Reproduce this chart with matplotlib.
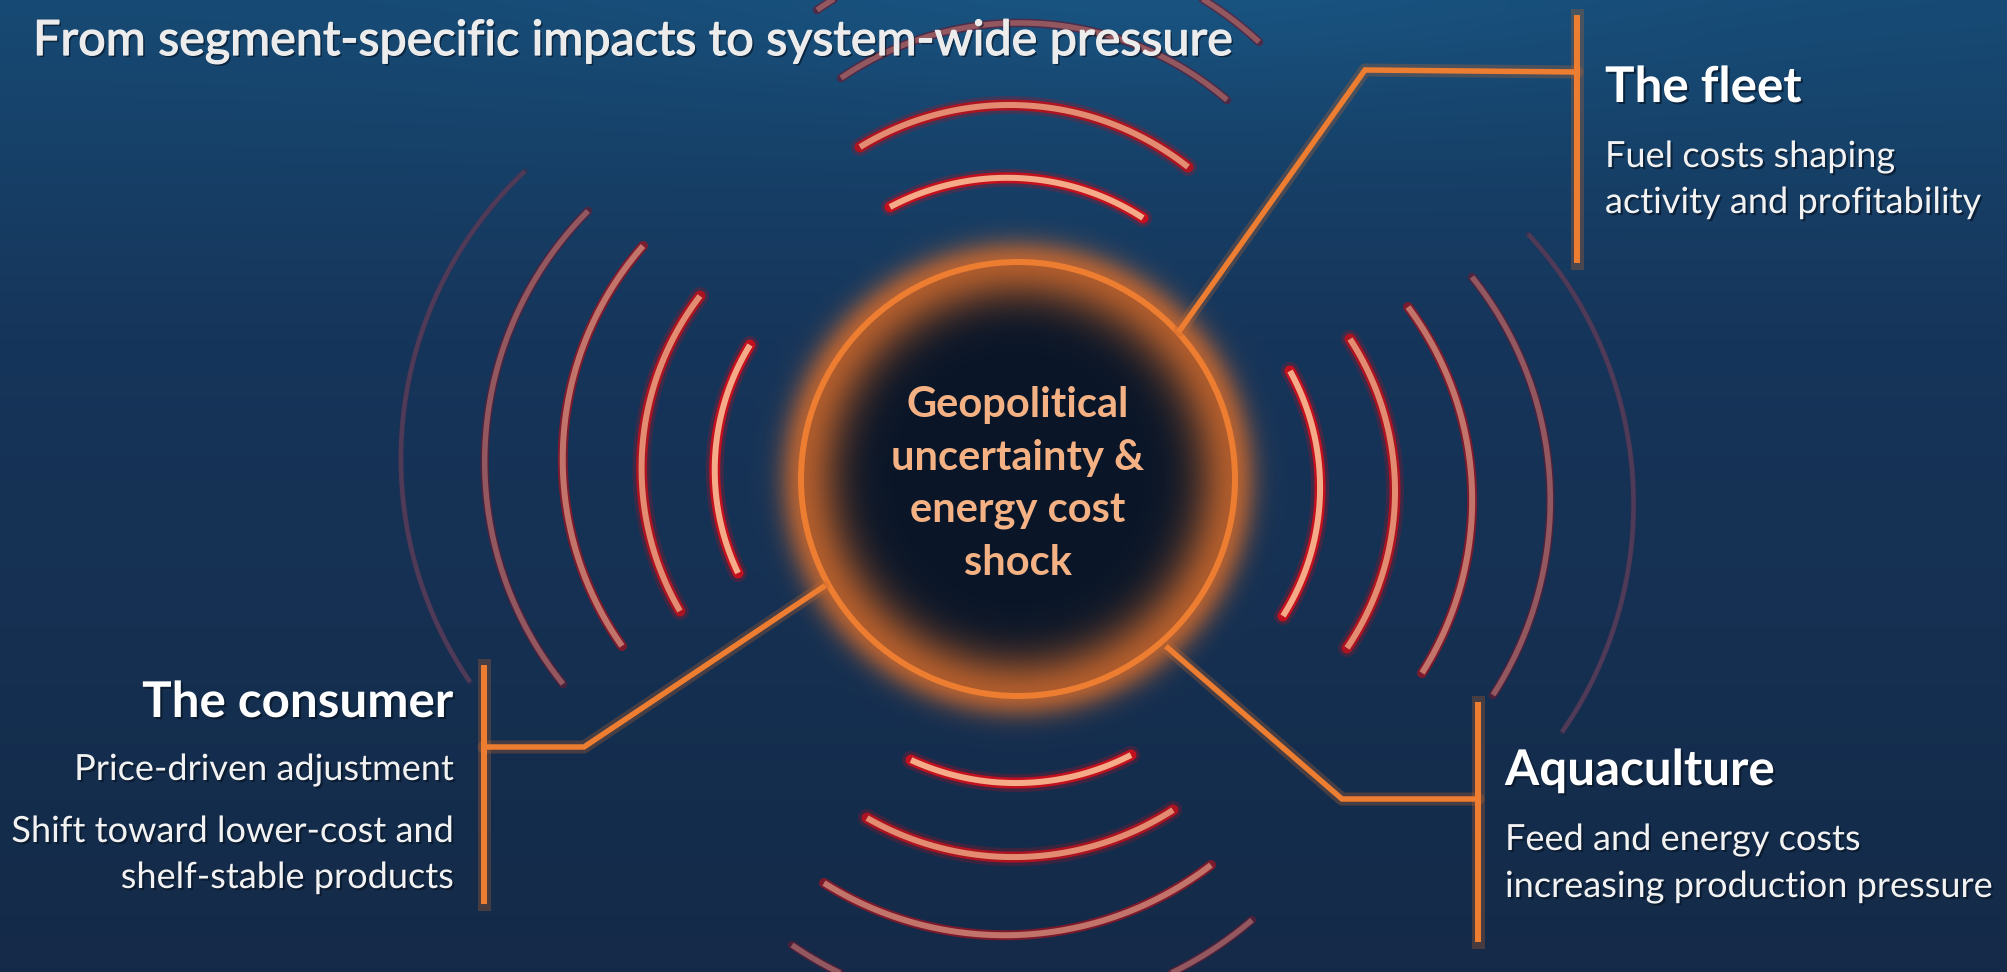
import numpy as np
import matplotlib.pyplot as plt
from matplotlib.patches import Circle
import matplotlib.patheffects as pe

plt.rcParams['font.family'] = ['Lato', 'DejaVu Sans']

# canvas size in pixels
W, H = 2007, 972

# hub circle
hub_x, hub_y, hub_r = 1018, 479, 217

title = 'From segment-specific impacts to system-wide pressure'
hub_lines = ['Geopolitical', 'uncertainty &', 'energy cost', 'shock']
hub_baselines = [417, 470, 522, 575]

# segment labels: heading, body lines
fleet_head = 'The fleet'
fleet_body = ['Fuel costs shaping', 'activity and profitability']
consumer_head = 'The consumer'
consumer_body = ['Price-driven adjustment', 'Shift toward lower-cost and', 'shelf-stable products']
aqua_head = 'Aquaculture'
aqua_body = ['Feed and energy costs', 'increasing production pressure']

# connector polylines (end on ring -> elbow -> bracket) and bracket bars
fleet_path = [(1180, 330), (1365, 70), (1577, 72)]
fleet_bar = (1577, 15, 263)
aqua_path = [(1168, 648), (1342, 799), (1478, 799)]
aqua_bar = (1478, 702, 942)
consumer_path = [(823, 587), (584, 747), (484, 747)]
consumer_bar = (484, 665, 904)

# wave arcs: three points (end, apex, end), plus a fade level
left_arcs = [
    [(750, 345), (715, 459), (738, 573)],
    [(700, 296), (642, 453), (680, 611)],
    [(643, 246), (563, 446), (622, 646)],
    [(588, 211), (485, 447), (563, 684)],
    [(525, 171), (402, 430), (470, 682)],
]
left_levels = [0, 1, 2, 3, 4]
right_arcs = [
    [(1290, 371), (1320, 493), (1283, 616)],
    [(1350, 339), (1395, 493), (1347, 648)],
    [(1408, 307), (1472, 490), (1422, 673)],
    [(1472, 277), (1550, 486), (1493, 695)],
    [(1528, 234), (1633, 483), (1562, 732)],
]
right_levels = [0, 1, 2, 3, 4]
top_arcs = [
    [(890, 207), (1017, 178), (1143, 218)],
    [(860, 147), (1010, 105), (1188, 167)],
    [(841, 78), (1013, 23), (1227, 100)],
    [(817, 10), (1022, -53), (1259, 42)],
]
top_levels = [0, 1, 3, 3]
bottom_arcs = [
    [(911, 760), (1020, 783), (1131, 755)],
    [(867, 818), (1020, 857), (1173, 810)],
    [(824, 883), (1017, 935), (1211, 865)],
    [(792, 945), (1020, 1011), (1252, 920)],
]
bottom_levels = [0, 1, 2, 3]

core_cols = ['#f5ab88', '#e38c72', '#c2746b', '#93585f', '#4f3b58']
edge_cols = ['#c3101e', '#b3121f', '#8e1727', '#621d35', '#3b2e50']
core_px = [6, 6, 6, 5.5, 4.5]
edge_px = [11, 11, 10, 8.5, 6]
edge_alpha = [1.0, 0.95, 0.85, 0.7, 0.45]

ORANGE = '#ED7D31'
PX = 0.72  # points per pixel at dpi 100


def arc_points(p1, p2, p3, n=120):
    (x1, y1), (x2, y2), (x3, y3) = p1, p2, p3
    a = np.array([[x2 - x1, y2 - y1], [x3 - x2, y3 - y2]], float) * 2
    b = np.array([x2**2 + y2**2 - x1**2 - y1**2, x3**2 + y3**2 - x2**2 - y2**2], float)
    cx, cy = np.linalg.solve(a, b)
    r = np.hypot(x1 - cx, y1 - cy)
    t1 = np.arctan2(y1 - cy, x1 - cx)
    t2 = np.arctan2(y2 - cy, x2 - cx)
    t3 = np.arctan2(y3 - cy, x3 - cx)
    d12 = (t2 - t1) % (2 * np.pi)
    d13 = (t3 - t1) % (2 * np.pi)
    if d12 < d13:
        t = np.linspace(t1, t1 + d13, n)
    else:
        t = np.linspace(t1, t1 - (2 * np.pi - d13), n)
    return cx + r * np.cos(t), cy + r * np.sin(t)


# background: navy gradient with dark hub and orange glow
yy, xx = np.mgrid[0:H, 0:W] + 0.5
stops = [0, 0.35, 1]
top_c = np.array([22, 74, 116]) / 255
mid_c = np.array([22, 53, 90]) / 255
bot_c = np.array([20, 42, 72]) / 255
img = np.zeros((H, W, 3))
for k in range(3):
    img[..., k] = np.interp(yy / H, stops, [top_c[k], mid_c[k], bot_c[k]])
haze = np.exp(-((xx - 1150) / 550) ** 2 - (yy / 110) ** 2) * 0.06
img += haze[..., None] * np.array([0.2, 0.6, 0.8])

d = np.hypot(xx - hub_x, yy - hub_y)
inside = d < hub_r
img[inside] = np.array([10, 22, 40]) / 255
glow = np.where(inside, 0.85 * np.exp(-((hub_r - d) / 40) ** 2),
                0.85 * np.exp(-((d - hub_r) / 22) ** 2))
glow_c = np.array([205, 105, 45]) / 255
img = img * (1 - glow[..., None]) + glow_c * glow[..., None]
img = np.clip(img, 0, 1)

fig = plt.figure(figsize=(W / 100, H / 100), dpi=100)
ax = fig.add_axes([0, 0, 1, 1])
ax.imshow(img, extent=(0, W, H, 0), interpolation='bilinear', zorder=0)
ax.set_xlim(0, W)
ax.set_ylim(H, 0)
ax.axis('off')

# wave arcs
for arcs, levels in [(left_arcs, left_levels), (right_arcs, right_levels),
                     (top_arcs, top_levels), (bottom_arcs, bottom_levels)]:
    for pts, lv in zip(arcs, levels):
        x, y = arc_points(*pts)
        if lv < 2:
            ax.plot(x, y, color=edge_cols[lv], lw=(edge_px[lv] + 7) * PX, alpha=0.25,
                    solid_capstyle='round', zorder=2)
        ax.plot(x, y, color=edge_cols[lv], lw=edge_px[lv] * PX, alpha=edge_alpha[lv],
                solid_capstyle='round', zorder=3)
        ax.plot(x, y, color=core_cols[lv], lw=core_px[lv] * PX,
                solid_capstyle='butt', zorder=4)

# hub ring
ax.add_patch(Circle((hub_x, hub_y), hub_r, fill=False, ec=ORANGE, lw=6 * PX, zorder=5))

# connectors and brackets
for path, bar in [(fleet_path, fleet_bar), (aqua_path, aqua_bar), (consumer_path, consumer_bar)]:
    px_, py_ = zip(*path)
    ax.plot(px_, py_, color='#c0652c', lw=13 * PX, alpha=0.3, solid_capstyle='round', zorder=5)
    ax.plot(px_, py_, color=ORANGE, lw=5.5 * PX, solid_joinstyle='miter', zorder=6)
    ax.plot([bar[0], bar[0]], [bar[1], bar[2]], color='#c0652c', lw=13 * PX, alpha=0.3, zorder=5)
    ax.plot([bar[0], bar[0]], [bar[1], bar[2]], color=ORANGE, lw=6 * PX,
            solid_capstyle='butt', zorder=6)

shadow = [pe.withSimplePatchShadow(offset=(1.5, -1.5), shadow_rgbFace='#06101e', alpha=0.6)]
title_fx = [pe.SimplePatchShadow(offset=(1.5, -1.5), shadow_rgbFace='#06101e', alpha=0.6),
            pe.withStroke(linewidth=0.9, foreground='#ececec')]

ax.text(33, 55, title, fontsize=35, color='#ececec', va='baseline', ha='left',
        path_effects=title_fx, zorder=7)

for line, yb in zip(hub_lines, hub_baselines):
    ax.text(hub_x, yb, line, fontsize=30, fontweight='bold', color='#F4B183',
            ha='center', va='baseline', zorder=7)

ax.text(1605, 102, fleet_head, fontsize=35.5, fontweight='bold', color='white',
        va='baseline', path_effects=shadow, zorder=7)
for line, yb in zip(fleet_body, [167, 213]):
    ax.text(1605, yb, line, fontsize=26, color='#f2f2f2', va='baseline',
            path_effects=shadow, zorder=7)

ax.text(453, 717, consumer_head, fontsize=35.5, fontweight='bold', color='white',
        va='baseline', ha='right', path_effects=shadow, zorder=7)
for line, yb in zip(consumer_body, [780, 842, 888]):
    ax.text(453, yb, line, fontsize=26, color='#f2f2f2', va='baseline', ha='right',
            path_effects=shadow, zorder=7)

ax.text(1505, 785, aqua_head, fontsize=35.5, fontweight='bold', color='white',
        va='baseline', path_effects=shadow, zorder=7)
for line, yb in zip(aqua_body, [850, 897]):
    ax.text(1505, yb, line, fontsize=26, color='#f2f2f2', va='baseline',
            path_effects=shadow, zorder=7)

fig.savefig('out.png', dpi=100)
